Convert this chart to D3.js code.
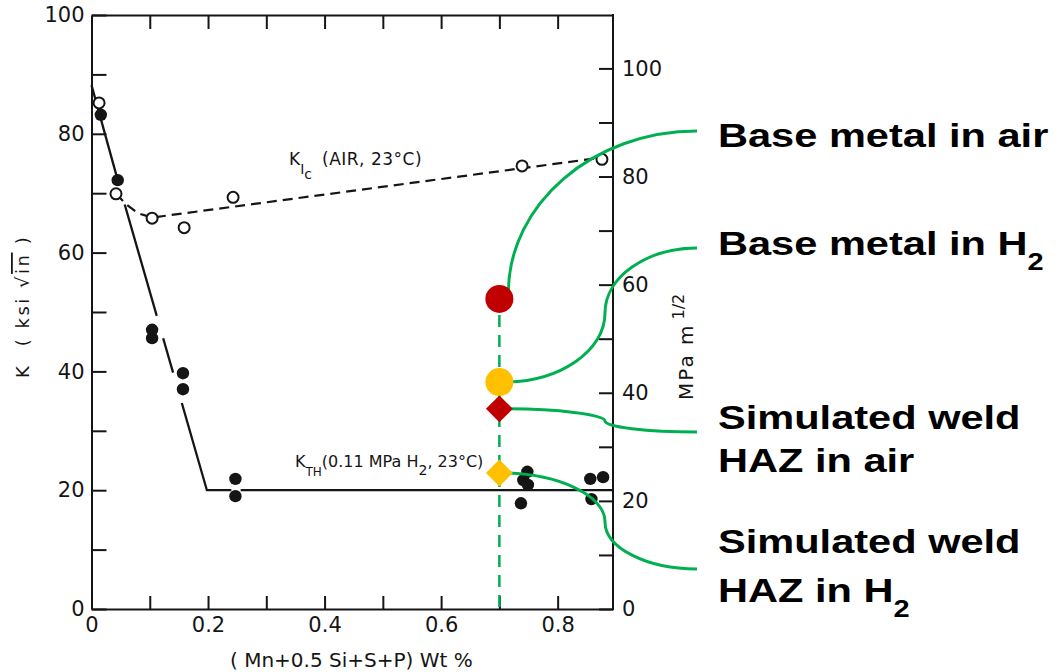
<!DOCTYPE html>
<html>
<head>
<meta charset="utf-8">
<script src="https://cdn.jsdelivr.net/npm/d3@7"></script>
<style>
body { margin: 0; background: #fff; }
svg { display: block; }
</style>
</head>
<body>
<script>
// Values. K is in ksi sqrt(in), x is (Mn+0.5Si+S+P) wt %.
var kicX = [0.013, 0.042, 0.104, 0.159, 0.243, 0.739, 0.876];
var kicY = [85.2, 69.9, 65.8, 64.2, 69.3, 74.6, 75.7];

var kthX = [0.016, 0.045, 0.104, 0.104, 0.157, 0.157, 0.247, 0.247, 0.737, 0.741, 0.749, 0.748, 0.856, 0.858, 0.878];
var kthY = [83.2, 72.2, 47.0, 45.6, 39.7, 37.0, 21.9, 19.0, 17.8, 21.7, 20.9, 23.1, 21.9, 18.5, 22.2];

// the two trend lines hand drawn on the original
var kicFitX = [0.042, 0.06, 0.08, 0.104, 0.876];
var kicFitY = [69.9, 68.1, 66.6, 65.9, 76.0];
var kthFitX = [0, 0.045, 0.198, 0.895];
var kthFitY = [88.2, 72.2, 20, 20];
// the K_TH line is broken where it meets the points
var kthPieces = [[0, 0.046], [0.057, 0.112], [0.123, 0.14], [0.155, 0.24], [0.256, 0.895]];

// the four new results, all at 0.7 wt %
var markerX = 0.7;
var markerY = [52.2, 38.2, 33.7, 22.9];
var markerShape = ["circle", "circle", "diamond", "diamond"];
var markerColor = ["#C00000", "#FFC000", "#C00000", "#FFC000"];

// ticks
var xTicks = [0, 0.1, 0.2, 0.3, 0.4, 0.5, 0.6, 0.7, 0.8];
var xLabels = [0, 0.2, 0.4, 0.6, 0.8];
var kTicks = [0, 10, 20, 30, 40, 50, 60, 70, 80, 90, 100];
var kLabels = [0, 20, 40, 60, 80, 100];
var mpaTicks = [0, 10, 20, 30, 40, 50, 60, 70, 80, 90, 100];
var mpaLabels = [0, 20, 40, 60, 80, 100];

var width = 1059, height = 672;
var plot = { left: 91.5, right: 613, top: 15, bottom: 609 };
var ink = "#151515";
var green = "#00B050";
var scanFont = "'DejaVu Sans', sans-serif";

var svg = d3.select("body").append("svg")
    .attr("width", width)
    .attr("height", height);

var x = d3.scaleLinear().domain([0, 0.895]).range([plot.left, plot.right]);
var y = d3.scaleLinear().domain([0, 100]).range([plot.bottom, plot.top]);
// 1 ksi sqrt(in) = 1.0988 MPa m^1/2
var yMpa = d3.scaleLinear().domain([0, 100 * 1.0988]).range([plot.bottom, plot.top]);

function scanText(sel, size) {
    sel.attr("fill", ink)
        .style("font-family", scanFont)
        .style("font-size", size + "px");
}

function styleAxis(g) {
    g.selectAll("path, line").attr("stroke", ink).attr("stroke-width", 2);
    g.selectAll("text").call(scanText, 21);
}

// bottom axis, ticks point inward
svg.append("g")
    .attr("transform", "translate(0," + plot.bottom + ")")
    .call(d3.axisBottom(x).tickValues(xTicks).tickSize(-13).tickSizeOuter(0).tickPadding(8)
        .tickFormat(function (d) { return xLabels.indexOf(d) >= 0 ? (d === 0 ? "0" : d3.format(".1f")(d)) : ""; }))
    .call(styleAxis);

// top edge
svg.append("g")
    .attr("transform", "translate(0," + plot.top + ")")
    .call(d3.axisTop(x).tickValues(xTicks.slice(1)).tickSize(-14).tickSizeOuter(0).tickFormat(""))
    .call(styleAxis);

// left axis, ksi sqrt(in)
svg.append("g")
    .attr("transform", "translate(" + plot.left + ",0)")
    .call(d3.axisLeft(y).tickValues(kTicks).tickSize(-15).tickSizeOuter(0).tickPadding(7)
        .tickFormat(function (d) { return kLabels.indexOf(d) >= 0 ? d : ""; }))
    .call(styleAxis);

// right axis, MPa m^1/2
var rightAxis = svg.append("g")
    .attr("transform", "translate(" + plot.right + ",0)")
    .call(d3.axisRight(yMpa).tickValues(mpaTicks).tickSize(-14).tickSizeOuter(0).tickPadding(9)
        .tickFormat(function (d) { return mpaLabels.indexOf(d) >= 0 ? d : ""; }))
    .call(styleAxis);
rightAxis.select(".domain").remove();
svg.append("line")
    .attr("x1", plot.right).attr("x2", plot.right)
    .attr("y1", plot.top - 1).attr("y2", plot.bottom + 1)
    .attr("stroke", ink).attr("stroke-width", 2);

// axis titles
svg.append("text")
    .attr("x", 230).attr("y", 667)
    .call(scanText, 20)
    .text("( Mn+0.5 Si+S+P)  Wt %");

var yTitle = svg.append("text")
    .attr("transform", "translate(29,378) rotate(-90)")
    .call(scanText, 18);
yTitle.append("tspan").text("K");
yTitle.append("tspan").attr("dx", 20).style("letter-spacing", "2.5px").text("( ksi \u221A");
yTitle.append("tspan").style("text-decoration", "overline").style("letter-spacing", "2.5px").text("in");
yTitle.append("tspan").style("letter-spacing", "2.5px").text(" )");

var mpaTitle = svg.append("text")
    .attr("transform", "translate(693,400) rotate(-90)")
    .call(scanText, 20);
mpaTitle.append("tspan").style("letter-spacing", "2px").text("MPa m");
mpaTitle.append("tspan").attr("dx", 4).attr("dy", -9).style("font-size", "16px").text("1/2");

// green guide at 0.7 wt %
svg.append("line")
    .attr("x1", x(markerX)).attr("x2", x(markerX))
    .attr("y1", y(markerY[0]) + 16).attr("y2", plot.bottom)
    .attr("stroke", green).attr("stroke-width", 2.5)
    .attr("stroke-dasharray", "12,8");

// K_Ic trend (dashed) and K_TH trend (solid, broken near points)
var line = d3.line()
    .x(function (d) { return x(d[0]); })
    .y(function (d) { return y(d[1]); });

svg.append("path")
    .datum(d3.zip(kicFitX, kicFitY))
    .attr("d", line)
    .attr("fill", "none")
    .attr("stroke", ink).attr("stroke-width", 2.2)
    .attr("stroke-dasharray", "10,6");

var kthTrend = d3.scaleLinear().domain(kthFitX).range(kthFitY);
svg.append("g")
    .selectAll("path")
    .data(kthPieces)
    .enter()
    .append("path")
    .attr("d", function (p) {
        var xs = [p[0]].concat(kthFitX.filter(function (v) { return v > p[0] && v < p[1]; }), [p[1]]);
        return line(xs.map(function (v) { return [v, kthTrend(v)]; }));
    })
    .attr("fill", "none")
    .attr("stroke", ink).attr("stroke-width", 2.3);

// data points
svg.append("g")
    .selectAll("circle")
    .data(d3.zip(kicX, kicY))
    .enter()
    .append("circle")
    .attr("cx", function (d) { return x(d[0]); })
    .attr("cy", function (d) { return y(d[1]); })
    .attr("r", 5.5)
    .attr("fill", "#fff")
    .attr("stroke", ink).attr("stroke-width", 2);

svg.append("g")
    .selectAll("circle")
    .data(d3.zip(kthX, kthY))
    .enter()
    .append("circle")
    .attr("cx", function (d) { return x(d[0]); })
    .attr("cy", function (d) { return y(d[1]); })
    .attr("r", 6.2)
    .attr("fill", ink);

// curve labels
var kicLabel = svg.append("text")
    .attr("x", 289).attr("y", 165)
    .call(scanText, 17);
kicLabel.append("tspan").text("K");
kicLabel.append("tspan").attr("dy", 9).style("font-size", "14px").text("I");
kicLabel.append("tspan").attr("dy", 5).style("font-size", "14px").text("c");
kicLabel.append("tspan").attr("x", 322).attr("y", 165).style("letter-spacing", "0.5px").text("(AIR, 23\u00B0C)");

var kthLabel = svg.append("text")
    .attr("x", 295).attr("y", 467)
    .call(scanText, 16);
kthLabel.append("tspan").text("K");
kthLabel.append("tspan").attr("dy", 9).style("font-size", "12px").text("TH");
kthLabel.append("tspan").attr("dy", -9).text("(0.11 MPa H");
kthLabel.append("tspan").attr("dy", 8).style("font-size", "14px").text("2");
kthLabel.append("tspan").attr("dy", -8).text(", 23\u00B0C)");

// connector curves from the new points to their labels
var labelX = 697;
function sCurve(sx, sy, mx, my, ex, ey) {
    var k = 0.55;
    return "M" + sx + "," + sy +
        "C" + (sx + k * (mx - sx)) + "," + sy + " " + mx + "," + (my + k * (sy - my)) + " " + mx + "," + my +
        "C" + mx + "," + (my + k * (ey - my)) + " " + (ex - k * (ex - mx)) + "," + ey + " " + ex + "," + ey;
}
var cx = x(markerX);
var connectors = [
    // first one leaves the top of the circle and bends right
    "M" + (cx + 9) + "," + (y(markerY[0]) - 6) +
        "C" + (cx + 9) + "," + (y(markerY[0]) - 6 - 0.55 * (y(markerY[0]) - 6 - 131)) + " " +
        (labelX - 0.55 * (labelX - cx - 9)) + ",131 " + labelX + ",131",
    sCurve(cx + 5, y(markerY[1]), 605, 313, labelX, 248),
    sCurve(cx, y(markerY[2]), 605, 421, labelX, 432),
    sCurve(cx, y(markerY[3]), 605, 522, labelX, 569)
];
svg.append("g")
    .selectAll("path")
    .data(connectors)
    .enter()
    .append("path")
    .attr("d", function (d) { return d; })
    .attr("fill", "none")
    .attr("stroke", green)
    .attr("stroke-width", 3);

// the new markers
svg.append("g")
    .selectAll("path")
    .data(markerY)
    .enter()
    .append("path")
    .attr("transform", function (d, i) {
        return "translate(" + x(markerX) + "," + y(d) + ")" + (markerShape[i] === "diamond" ? " rotate(45)" : "");
    })
    .attr("d", function (d, i) {
        return markerShape[i] === "circle"
            ? d3.symbol().type(d3.symbolCircle).size(Math.PI * 14 * 14)()
            : d3.symbol().type(d3.symbolSquare).size(19 * 19)();
    })
    .attr("fill", function (d, i) { return markerColor[i]; });

// big callout labels (the slide text is stretched sideways)
var calloutLines = [
    { y: 147, text: "Base metal in air" },
    { y: 255, text: "Base metal in H", sub: "2" },
    { y: 429, text: "Simulated weld" },
    { y: 472, text: "HAZ in air" },
    { y: 553, text: "Simulated weld" },
    { y: 602, text: "HAZ in H", sub: "2" }
];
var callouts = svg.append("g")
    .selectAll("g")
    .data(calloutLines)
    .enter()
    .append("g")
    .attr("transform", function (d) { return "translate(718," + d.y + ") scale(1.26,1)"; })
    .append("text")
    .attr("fill", "#000")
    .style("font-family", "'Liberation Sans', Arial, sans-serif")
    .style("font-weight", "bold")
    .style("font-size", "33px");
callouts.append("tspan").text(function (d) { return d.text; });
callouts.filter(function (d) { return d.sub; })
    .append("tspan")
    .attr("dy", 15)
    .style("font-size", "23px")
    .text(function (d) { return d.sub; });
</script>
</body>
</html>
